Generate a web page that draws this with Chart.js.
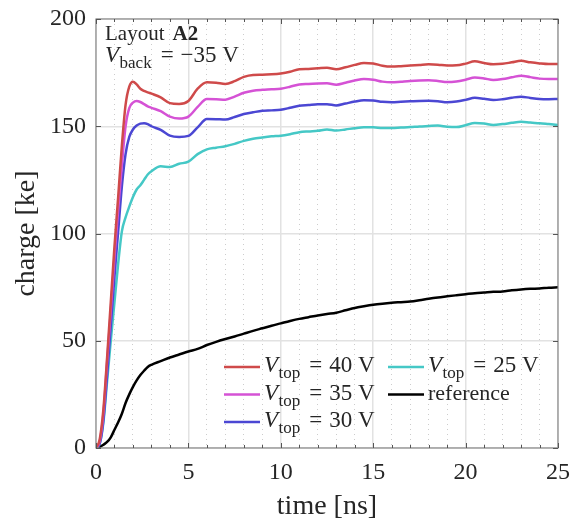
<!DOCTYPE html>
<html><head><meta charset="utf-8">
<script src="https://cdn.jsdelivr.net/npm/chart.js@4"></script>
<style>html,body{margin:0;padding:0;background:#fff;overflow:hidden}</style>
</head><body>
<canvas id="c" width="571" height="524" style="display:block;width:571px;height:524px"></canvas>
<script>
// ---- data ----
const time = [0,0.2,0.4,0.6,0.8,1.0,1.2,1.4,1.6,1.8,2.0,2.2,2.4,2.6,2.8,3.0,
  3.5,4.0,4.5,5.0,5.5,6.0,6.5,7.0,7.5,8.0,8.5,9.0,9.5,10.0,10.5,11.0,11.5,12.0,12.5,13.0,13.5,14.0,14.5,15.0,
  15.5,16.0,16.5,17.0,17.5,18.0,18.5,19.0,19.5,20.0,20.5,21.0,21.5,22.0,22.5,23.0,23.5,24.0,24.5,25.0];
const vtop40 = [0,4,18,42,68,94,117,141,160,168.5,170.8,169.5,167.5,166.5,165.8,165.2,
  163.5,160.8,160.4,161.8,167.5,170.5,170.3,169.7,171,173,173.9,174,174.2,174.6,175.4,176.6,176.7,177,177.3,176.6,177.5,178.6,179.5,179.3,
  178.2,177.8,178,178.3,178.6,178.9,178.7,178.3,178.4,179.2,180.3,179.5,178.9,179.1,179.8,180.5,179.8,179.3,179,179];
const vtop35 = [0,3,16,40,64,89,111,132,150,158.5,161,161.8,161.3,160.3,159.3,158.6,
  157,154.5,153.6,154.5,159,162.7,162.6,162.4,163.8,165.6,166.6,167,167.2,167.5,168.4,169.5,169.7,169.9,170,169.4,170.3,171.3,172,171.7,
  170.8,170.5,170.8,171.1,171.3,171.4,171.1,170.6,170.9,171.7,172.7,172.3,171.6,172,172.8,173.6,172.9,172.2,172,172];
const vtop30 = [0,2,13,34,57,80,101,122,137,145,148.5,150.3,151.2,151.4,151,150,
  148.3,145.6,145,145.5,149.5,153.4,153.3,153.1,154.3,155.7,156.5,157.2,157.4,157.7,158.6,159.6,159.9,160.2,160.3,159.7,160.6,161.5,162.1,162,
  161.4,161.2,161.4,161.6,161.8,161.9,161.7,161.2,161.5,162.3,163.3,162.8,162.2,162.6,163.3,163.8,163.2,162.7,162.6,162.7];
const vtop25 = [0,2,12,31,50,68,86,101,107.5,112.5,117,120.5,122.5,125,127.5,129,
  131.3,131,132.5,133.5,137,139.2,140,140.7,141.8,143.2,144.2,144.8,145.3,145.6,146.3,147.2,147.6,147.9,148.5,148,148.5,149.1,149.5,149.5,
  149.2,149.2,149.4,149.6,149.9,150.1,150.3,149.8,149.6,150.5,151.5,151.3,150.6,151,151.6,152.1,151.7,151.4,151,150.6];
const reference = [0,0.5,1.5,2.8,5,8.5,12,16,21,25,28.5,31.5,34,36,37.8,38.8,
  40.5,42.2,43.6,45,46.2,48,49.5,50.8,52,53.3,54.6,55.8,57,58.1,59.2,60.2,61,61.8,62.5,63.1,64.2,65.3,66.1,66.8,
  67.3,67.7,68,68.3,68.9,69.6,70.2,70.7,71.2,71.7,72.2,72.5,72.8,73,73.5,73.9,74.2,74.4,74.7,74.9];
const voltages = [40, 35, 30, 25];
const referenceName = 'reference';
const xTicks = [0, 5, 10, 15, 20, 25];
const yTicks = [0, 50, 100, 150, 200];
const layoutName = 'A2';
const vBack = -35;

// ---- styles ----
const SERIF = '"Liberation Serif", "DejaVu Serif", serif';
const TXT = '#262626';
const seriesColors = ['#cf4a4a', '#d552d5', '#4b47d3', '#45c8c6', '#000000'];

const toPts = arr => arr.map((y, i) => ({x: time[i], y}));
const seriesValues = [vtop40, vtop35, vtop30, vtop25, reference];
const seriesLabels = voltages.map(v => `Vtop = ${v} V`).concat([referenceName]);

const datasets = seriesValues.map((vals, i) => ({
  label: seriesLabels[i],
  data: toPts(vals),
  borderColor: seriesColors[i],
  backgroundColor: seriesColors[i],
  borderWidth: 2.5,
  pointRadius: 0,
  cubicInterpolationMode: 'monotone',
  fill: false
}));

function drawMath(ctx, x, y, main, sub, eq, rest, size, subSize, subDrop) {
  ctx.textBaseline = 'alphabetic';
  ctx.textAlign = 'left';
  ctx.font = `italic ${size}px ${SERIF}`;
  ctx.fillText(main, x, y);
  x += ctx.measureText(main).width + 0.5;
  ctx.font = `${subSize}px ${SERIF}`;
  ctx.fillText(sub, x, y + subDrop);
  x += ctx.measureText(sub).width + 9;
  ctx.font = `${size}px ${SERIF}`;
  ctx.fillText(eq, x, y);
  x += ctx.measureText(eq).width + 7;
  ctx.fillText(rest, x, y);
}

const decor = {
  id: 'decor',
  afterDatasetsDraw(chart) {
    const ctx = chart.ctx;
    const a = chart.chartArea;
    const xs = chart.scales.x, ys = chart.scales.y;
    ctx.save();
    // box
    ctx.strokeStyle = '#8a8a8a';
    ctx.lineWidth = 1.2;
    ctx.strokeRect(a.left, a.top, a.right - a.left, a.bottom - a.top);
    // inward ticks
    ctx.strokeStyle = '#555';
    ctx.lineWidth = 1;
    ctx.beginPath();
    for (let t = 0; t <= 25; t++) {
      const px = Math.round(xs.getPixelForValue(t)) + 0.5;
      const len = (t % 5 === 0) ? 5 : 3;
      ctx.moveTo(px, a.bottom); ctx.lineTo(px, a.bottom - len);
      ctx.moveTo(px, a.top); ctx.lineTo(px, a.top + len);
    }
    yTicks.forEach(v => {
      const py = Math.round(ys.getPixelForValue(v)) + 0.5;
      ctx.moveTo(a.left, py); ctx.lineTo(a.left + 5, py);
      ctx.moveTo(a.right, py); ctx.lineTo(a.right - 5, py);
    });
    ctx.stroke();

    // annotation
    ctx.fillStyle = TXT;
    ctx.textBaseline = 'alphabetic';
    ctx.textAlign = 'left';
    ctx.font = `21px ${SERIF}`;
    const ax = a.left + 9, ay = a.top + 21;
    ctx.fillText('Layout', ax, ay);
    const lw = ctx.measureText('Layout').width;
    ctx.font = `bold 21px ${SERIF}`;
    ctx.fillText(layoutName, ax + lw + 8, ay);
    drawMath(ctx, ax, ay + 22, 'V', 'back', '=', `\u2212${Math.abs(vBack)} V`, 23, 17, 6);

    // legend (3 rows, column-major)
    const rows = 3;
    const colX = [a.left + 128, a.left + 292];
    const rowY0 = 367, rowDy = 27.5;
    chart.data.datasets.forEach((ds, i) => {
      const col = Math.floor(i / rows), row = i % rows;
      const lx = colX[col];
      const ly = a.top + (rowY0 - 19) + row * rowDy;
      ctx.strokeStyle = ds.borderColor;
      ctx.lineWidth = 2.5;
      ctx.beginPath();
      ctx.moveTo(lx, ly); ctx.lineTo(lx + 36, ly);
      ctx.stroke();
      ctx.fillStyle = TXT;
      if (i < voltages.length) {
        drawMath(ctx, lx + 40, ly + 5, 'V', 'top', '=', `${voltages[i]} V`, 23, 17, 6);
      } else {
        ctx.font = `22px ${SERIF}`;
        ctx.textBaseline = 'alphabetic';
        ctx.fillText(referenceName, lx + 40, ly + 5);
      }
    });
    ctx.restore();
  }
};

new Chart(document.getElementById('c'), {
  type: 'line',
  data: { datasets },
  options: {
    responsive: false,
    animation: false,
    devicePixelRatio: 1,
    layout: { padding: { top: 19, right: 13, left: 0, bottom: 0 } },
    plugins: { legend: { display: false }, tooltip: { enabled: false } },
    scales: {
      x: {
        type: 'linear', min: 0, max: 25,
        afterFit: s => { s.height = 76; s.paddingLeft = 0; s.paddingRight = 0; },
        afterBuildTicks: s => { s.ticks = Array.from({length: 26}, (_, i) => ({value: i})); },
        ticks: {
          autoSkip: false, maxRotation: 0, padding: 10,
          callback: v => (xTicks.includes(v) ? String(v) : ''),
          font: { family: SERIF, size: 24 }, color: TXT
        },
        grid: {
          drawTicks: false,
          color: c => (c.tick && c.tick.value % 5 === 0) ? '#e2e2e2' : '#cccccc',
          lineWidth: c => (c.tick && c.tick.value % 5 === 0) ? 1.5 : 1
        },
        border: { display: false, dash: c => (c.tick && c.tick.value % 5 === 0) ? [] : [1, 4] },
        title: { display: true, text: 'time [ns]', font: { family: SERIF, size: 28 }, color: TXT, padding: { top: 0, bottom: 1 } }
      },
      y: {
        type: 'linear', min: 0, max: 200,
        afterFit: s => { s.width = 96; s.paddingTop = 0; s.paddingBottom = 0; },
        afterBuildTicks: s => { s.ticks = yTicks.map(v => ({value: v})); },
        ticks: { padding: 10, font: { family: SERIF, size: 24 }, color: TXT },
        grid: { drawTicks: false, color: '#e2e2e2', lineWidth: 1.5 },
        border: { display: false },
        title: { display: true, text: 'charge [ke]', font: { family: SERIF, size: 28 }, color: TXT, padding: { top: 10, bottom: 0 } }
      }
    }
  },
  plugins: [decor]
});
</script>
</body></html>
